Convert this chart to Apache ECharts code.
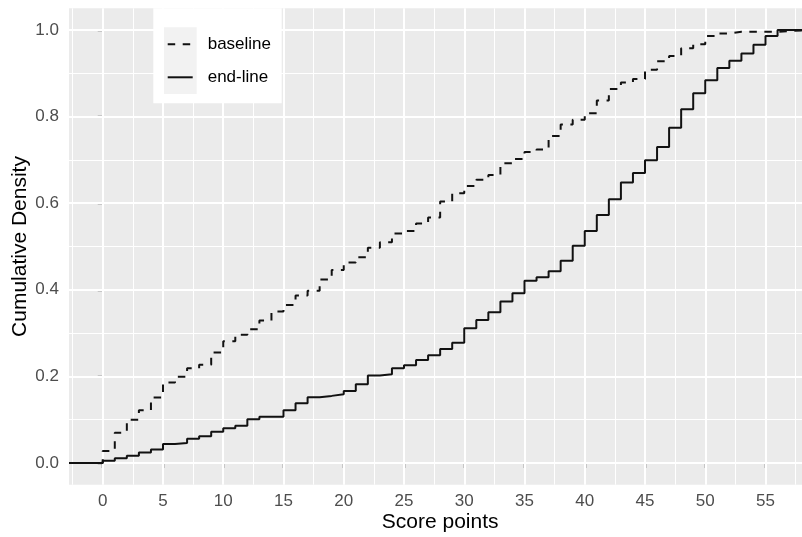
<!DOCTYPE html>
<html>
<head>
<meta charset="utf-8">
<title>Cumulative Density of Score points</title>
<script src="https://cdn.jsdelivr.net/npm/echarts@6/dist/echarts.min.js"></script>
<style>
  html, body { margin: 0; padding: 0; background: #ffffff; }
  #chart { width: 802px; height: 537px; }
</style>
</head>
<body>
<div id="chart"></div>
<script>
// Score values where the empirical CDFs step
const scores = [0, 1, 2, 3, 4, 5, 6, 7, 8, 9, 10, 11, 12, 13, 14, 15, 16, 17, 18, 19,
  20, 21, 22, 23, 24, 25, 26, 27, 28, 29, 30, 31, 32, 33, 34, 35, 36, 37, 38, 39,
  40, 41, 42, 43, 44, 45, 46, 47, 48, 49, 50, 51, 52, 53, 54, 55, 56];

// Cumulative density at each score, baseline assessment
const baseline = [0.028, 0.070, 0.100, 0.122, 0.151, 0.186, 0.199, 0.219, 0.227, 0.255,
  0.281, 0.296, 0.309, 0.329, 0.350, 0.365, 0.387, 0.398, 0.424, 0.446,
  0.463, 0.475, 0.497, 0.510, 0.530, 0.536, 0.553, 0.567, 0.604, 0.623,
  0.640, 0.654, 0.665, 0.692, 0.702, 0.718, 0.724, 0.755, 0.782, 0.793,
  0.808, 0.837, 0.864, 0.879, 0.887, 0.908, 0.928, 0.940, 0.958, 0.967,
  0.986, 0.992, 0.996, 0.996, 0.996, 0.996, 1.000];

// Cumulative density at each score, end-line assessment
const endline = [0.005, 0.011, 0.017, 0.024, 0.031, 0.044, 0.046, 0.056, 0.062, 0.072,
  0.080, 0.086, 0.101, 0.107, 0.107, 0.122, 0.138, 0.152, 0.155, 0.159,
  0.166, 0.182, 0.202, 0.205, 0.219, 0.226, 0.238, 0.249, 0.263, 0.278,
  0.311, 0.330, 0.348, 0.373, 0.392, 0.421, 0.429, 0.443, 0.467, 0.502,
  0.536, 0.573, 0.609, 0.648, 0.670, 0.699, 0.730, 0.774, 0.817, 0.854,
  0.884, 0.912, 0.929, 0.946, 0.966, 0.986, 1.000];

const seriesNames = ['baseline', 'end-line'];

// Axis extents (ggplot-style 5% expansion) and breaks
const xRange = [-2.8, 58.8];
const yRange = [-0.05, 1.05];
const xTicks = [0, 5, 10, 15, 20, 25, 30, 35, 40, 45, 50, 55];
const xMinor = [-2.5, 2.5, 7.5, 12.5, 17.5, 22.5, 27.5, 32.5, 37.5, 42.5, 47.5, 52.5, 57.5];
const yTicks = [0, 0.2, 0.4, 0.6, 0.8, 1.0];
const yMinor = [0.1, 0.3, 0.5, 0.7, 0.9];

const FONT = "'Liberation Sans', Arial, Helvetica, sans-serif";

// ECDF path: flat at 0 from the left edge, then a step per score, flat at 1 to the right edge
function ecdfPoints(values) {
  const pts = [[xRange[0], 0]];
  scores.forEach((s, i) => pts.push([s, values[i]]));
  pts.push([xRange[1], values[values.length - 1]]);
  return pts;
}

function gridLines(major, minor, key) {
  return major.map(v => ({ [key]: v, lineStyle: { width: 2 } }))
    .concat(minor.map(v => ({ [key]: v, lineStyle: { width: 1 } })));
}

const chart = echarts.init(document.getElementById('chart'), null, { renderer: 'canvas' });

chart.setOption({
  animation: false,
  backgroundColor: '#ffffff',
  textStyle: { fontFamily: FONT },
  grid: {
    left: 69, right: -9.3, top: 8.35, bottom: 52.35,
    outerBoundsMode: 'none',
    containLabel: false,
    show: true, backgroundColor: '#EBEBEB', borderWidth: 0
  },
  xAxis: {
    type: 'value',
    min: xRange[0], max: xRange[1],
    name: 'Score points',
    nameLocation: 'middle',
    nameGap: 27,
    nameMoveOverlap: false,
    nameTextStyle: { color: '#000000', fontSize: 21, fontFamily: FONT },
    axisLine: { show: false },
    splitLine: { show: false },
    axisTick: { show: true, length: 5, customValues: xTicks, lineStyle: { color: '#333333', width: 1.4 } },
    axisLabel: { customValues: xTicks, margin: 8, color: '#4D4D4D', fontSize: 17, fontFamily: FONT }
  },
  yAxis: {
    type: 'value',
    min: yRange[0], max: yRange[1],
    name: 'Cumulative Density',
    nameLocation: 'middle',
    nameGap: 38,
    nameMoveOverlap: false,
    nameTextStyle: { color: '#000000', fontSize: 21, fontFamily: FONT },
    axisLine: { show: false },
    splitLine: { show: false },
    axisTick: { show: true, length: 5, customValues: yTicks, lineStyle: { color: '#333333', width: 1.4 } },
    axisLabel: {
      customValues: yTicks, margin: 10, color: '#4D4D4D', fontSize: 17, fontFamily: FONT,
      formatter: v => v.toFixed(1)
    }
  },
  legend: {
    data: seriesNames,
    orient: 'vertical',
    left: 166.7,
    top: 34.3,
    padding: 0,
    itemWidth: 25,
    itemHeight: 20,
    itemGap: 13,
    z: 60,
    selectedMode: false,
    itemStyle: { color: 'transparent', borderWidth: 0 },
    textStyle: { color: '#000000', fontSize: 17, lineHeight: 20, fontFamily: FONT, padding: [0, 0, 0, 10] }
  },
  graphic: [
    { type: 'rect', z: 50, silent: true, shape: { x: 153.3, y: 8.35, width: 128.4, height: 95 }, style: { fill: '#ffffff' } },
    { type: 'rect', z: 51, silent: true, shape: { x: 164, y: 27.3, width: 32.7, height: 66.7 }, style: { fill: '#F2F2F2' } }
  ],
  series: [
    {
      name: 'panel-grid-x',
      type: 'line',
      data: [],
      z: 1,
      silent: true,
      markLine: {
        z: 1,
        silent: true, symbol: 'none', animation: false,
        label: { show: false },
        lineStyle: { color: '#ffffff', type: 'solid' },
        data: gridLines(xTicks, xMinor, 'xAxis')
      }
    },
    {
      name: 'panel-grid-y',
      type: 'line',
      data: [],
      z: 1,
      silent: true,
      markLine: {
        z: 1,
        silent: true, symbol: 'none', animation: false,
        label: { show: false },
        lineStyle: { color: '#ffffff', type: 'solid' },
        data: gridLines(yTicks, yMinor, 'yAxis')
      }
    },
    {
      name: seriesNames[0],
      type: 'line',
      step: 'end',
      showSymbol: false,
      symbol: 'none',
      z: 3,
      lineStyle: { color: '#111111', width: 2, type: [7.5, 7.5] },
      itemStyle: { color: '#111111' },
      data: ecdfPoints(baseline)
    },
    {
      name: seriesNames[1],
      type: 'line',
      step: 'end',
      showSymbol: false,
      symbol: 'none',
      z: 3,
      lineStyle: { color: '#111111', width: 2, type: 'solid' },
      itemStyle: { color: '#111111' },
      data: ecdfPoints(endline)
    }
  ]
});
</script>
</body>
</html>
